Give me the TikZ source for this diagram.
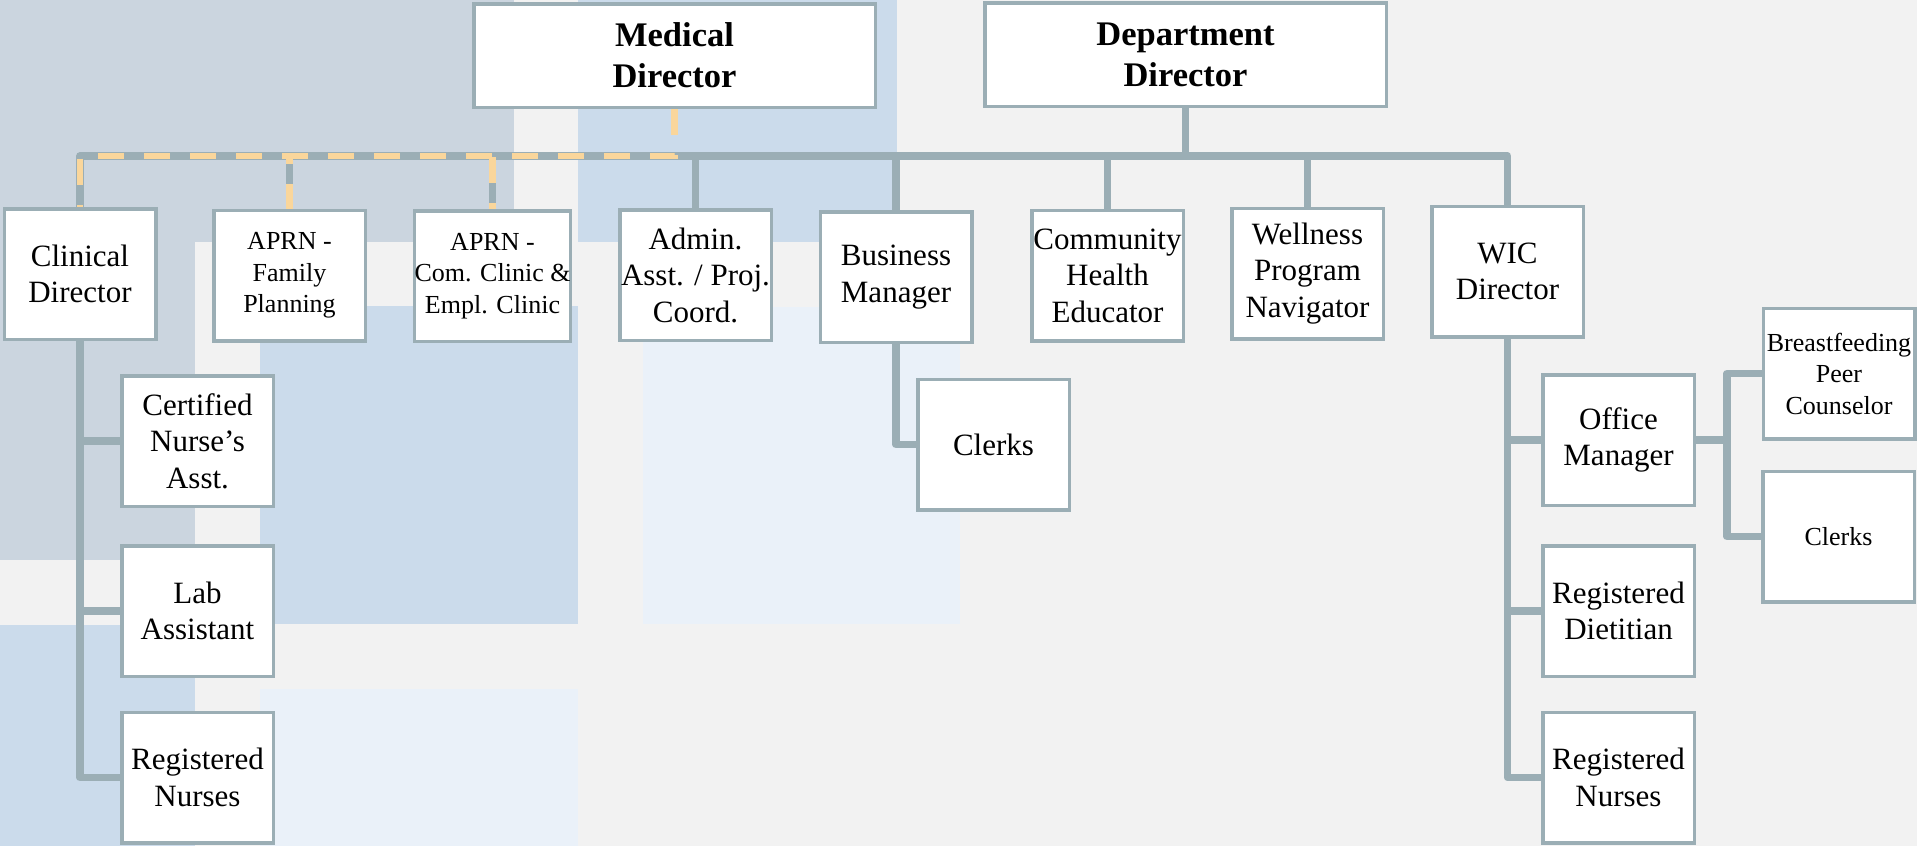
\documentclass[tikz,border=0pt]{standalone}
\usepackage{fontspec}
\setmainfont{Liberation Serif}
\definecolor{bgbase}{HTML}{F2F2F2}
\definecolor{bggray}{HTML}{CBD5DF}
\definecolor{bgblue}{HTML}{CBDBEB}
\definecolor{bglight}{HTML}{EAF1F9}
\definecolor{linecol}{HTML}{9BAEB5}
\definecolor{goldcol}{HTML}{FAD69B}
\pgfdeclarelayer{bglayer}
\pgfdeclarelayer{lines}
\pgfsetlayers{bglayer,lines,main}
\begin{document}
\begin{tikzpicture}[x=1pt,y=-1pt,
  box/.style={draw=linecol, line width=3.5pt, fill=white, align=center, inner sep=0pt,
    minimum width=151.5pt, minimum height=130.5pt, font=\fontsize{31}{36.5}\selectfont},
  smallbox/.style={box, font=\fontsize{26}{31.5}\selectfont},
  topbox/.style={box, minimum width=401.5pt, minimum height=103.5pt,
    font=\fontsize{34.5}{41}\selectfont\bfseries},
  conn/.style={draw=linecol, line width=7.5pt, line join=round},
  dashconn/.style={draw=goldcol, line width=6.5pt, dash pattern=on 26pt off 20pt}]
\useasboundingbox (0,0) rectangle (1917,846);
\begin{pgfonlayer}{bglayer}
  \fill[bgbase] (0,0) rectangle (1917,846);
  \fill[bggray] (0,0) rectangle (514,242);
  \fill[bggray] (0,242) rectangle (195,560);
  \fill[bgblue] (578,0) rectangle (897,242);
  \fill[bgblue] (260,306) rectangle (578,624);
  \fill[bgblue] (0,625) rectangle (195,846);
  \fill[bglight] (643,307) rectangle (960,624);
  \fill[bglight] (260,689) rectangle (578,846);
\end{pgfonlayer}

% top level
\node[topbox] (md) at (674.5,55.5) {Medical\\Director};
\node[topbox] (dd) at (1185.5,54.5) {Department\\Director};

% second row
\node[box] (clin) at (80,274) {Clinical\\Director};
\node[smallbox] (aprnfp) at (289.5,275.5) {APRN -\\Family\\Planning};
\node[smallbox, minimum width=153.5pt] (aprncc) at (492.5,276) {APRN -\\Com. Clinic \&\\Empl. Clinic};
\node[box] (admin) at (695.5,275) {Admin.\\Asst. / Proj.\\Coord.};
\node[box] (bm) at (896,277) {Business\\Manager};
\node[box] (che) at (1107.5,275.5) {Community\\Health\\Educator};
\node[box] (well) at (1307.5,273.5) {Wellness\\Program\\Navigator};
\node[box] (wic) at (1507.5,271.5) {WIC\\Director};

% clinical children
\node[box] (cna) at (197.5,441) {Certified\\Nurse’s\\Asst.};
\node[box] (lab) at (197.5,611) {Lab\\Assistant};
\node[box] (rna) at (197.5,777.5) {Registered\\Nurses};

% business children
\node[box] (clerksa) at (993.5,444.5) {Clerks};

% WIC children
\node[box] (om) at (1618.5,440) {Office\\Manager};
\node[box] (rd) at (1618.5,611) {Registered\\Dietitian};
\node[box] (rnb) at (1618.5,777.5) {Registered\\Nurses};

% office manager children
\node[smallbox] (bpc) at (1839,373.5) {Breastfeeding\\Peer\\Counselor};
\node[smallbox] (clerksb) at (1838.5,536.5) {Clerks};

\coordinate (bus) at (0,156);
\coordinate (omj) at (1727,440);

\begin{pgfonlayer}{lines}
  \foreach \c in {clin,aprnfp,aprncc,admin,bm,che,well,wic}
    \draw[conn] (dd.south) -- (dd.south |- bus) -| (\c.north);
  \foreach \c in {clin,aprnfp,aprncc}
    \draw[dashconn] (md.south) -- (md.south |- bus) -| (\c.north);
  \foreach \c in {cna,lab,rna}
    \draw[conn] (clin.south) |- (\c.west);
  \draw[conn] (bm.south) |- (clerksa.west);
  \foreach \c in {om,rd,rnb}
    \draw[conn] (wic.south) |- (\c.west);
  \draw[conn] (om.east) -- (omj) |- (bpc.west);
  \draw[conn] (om.east) -- (omj) |- (clerksb.west);
\end{pgfonlayer}
\end{tikzpicture}
\end{document}
